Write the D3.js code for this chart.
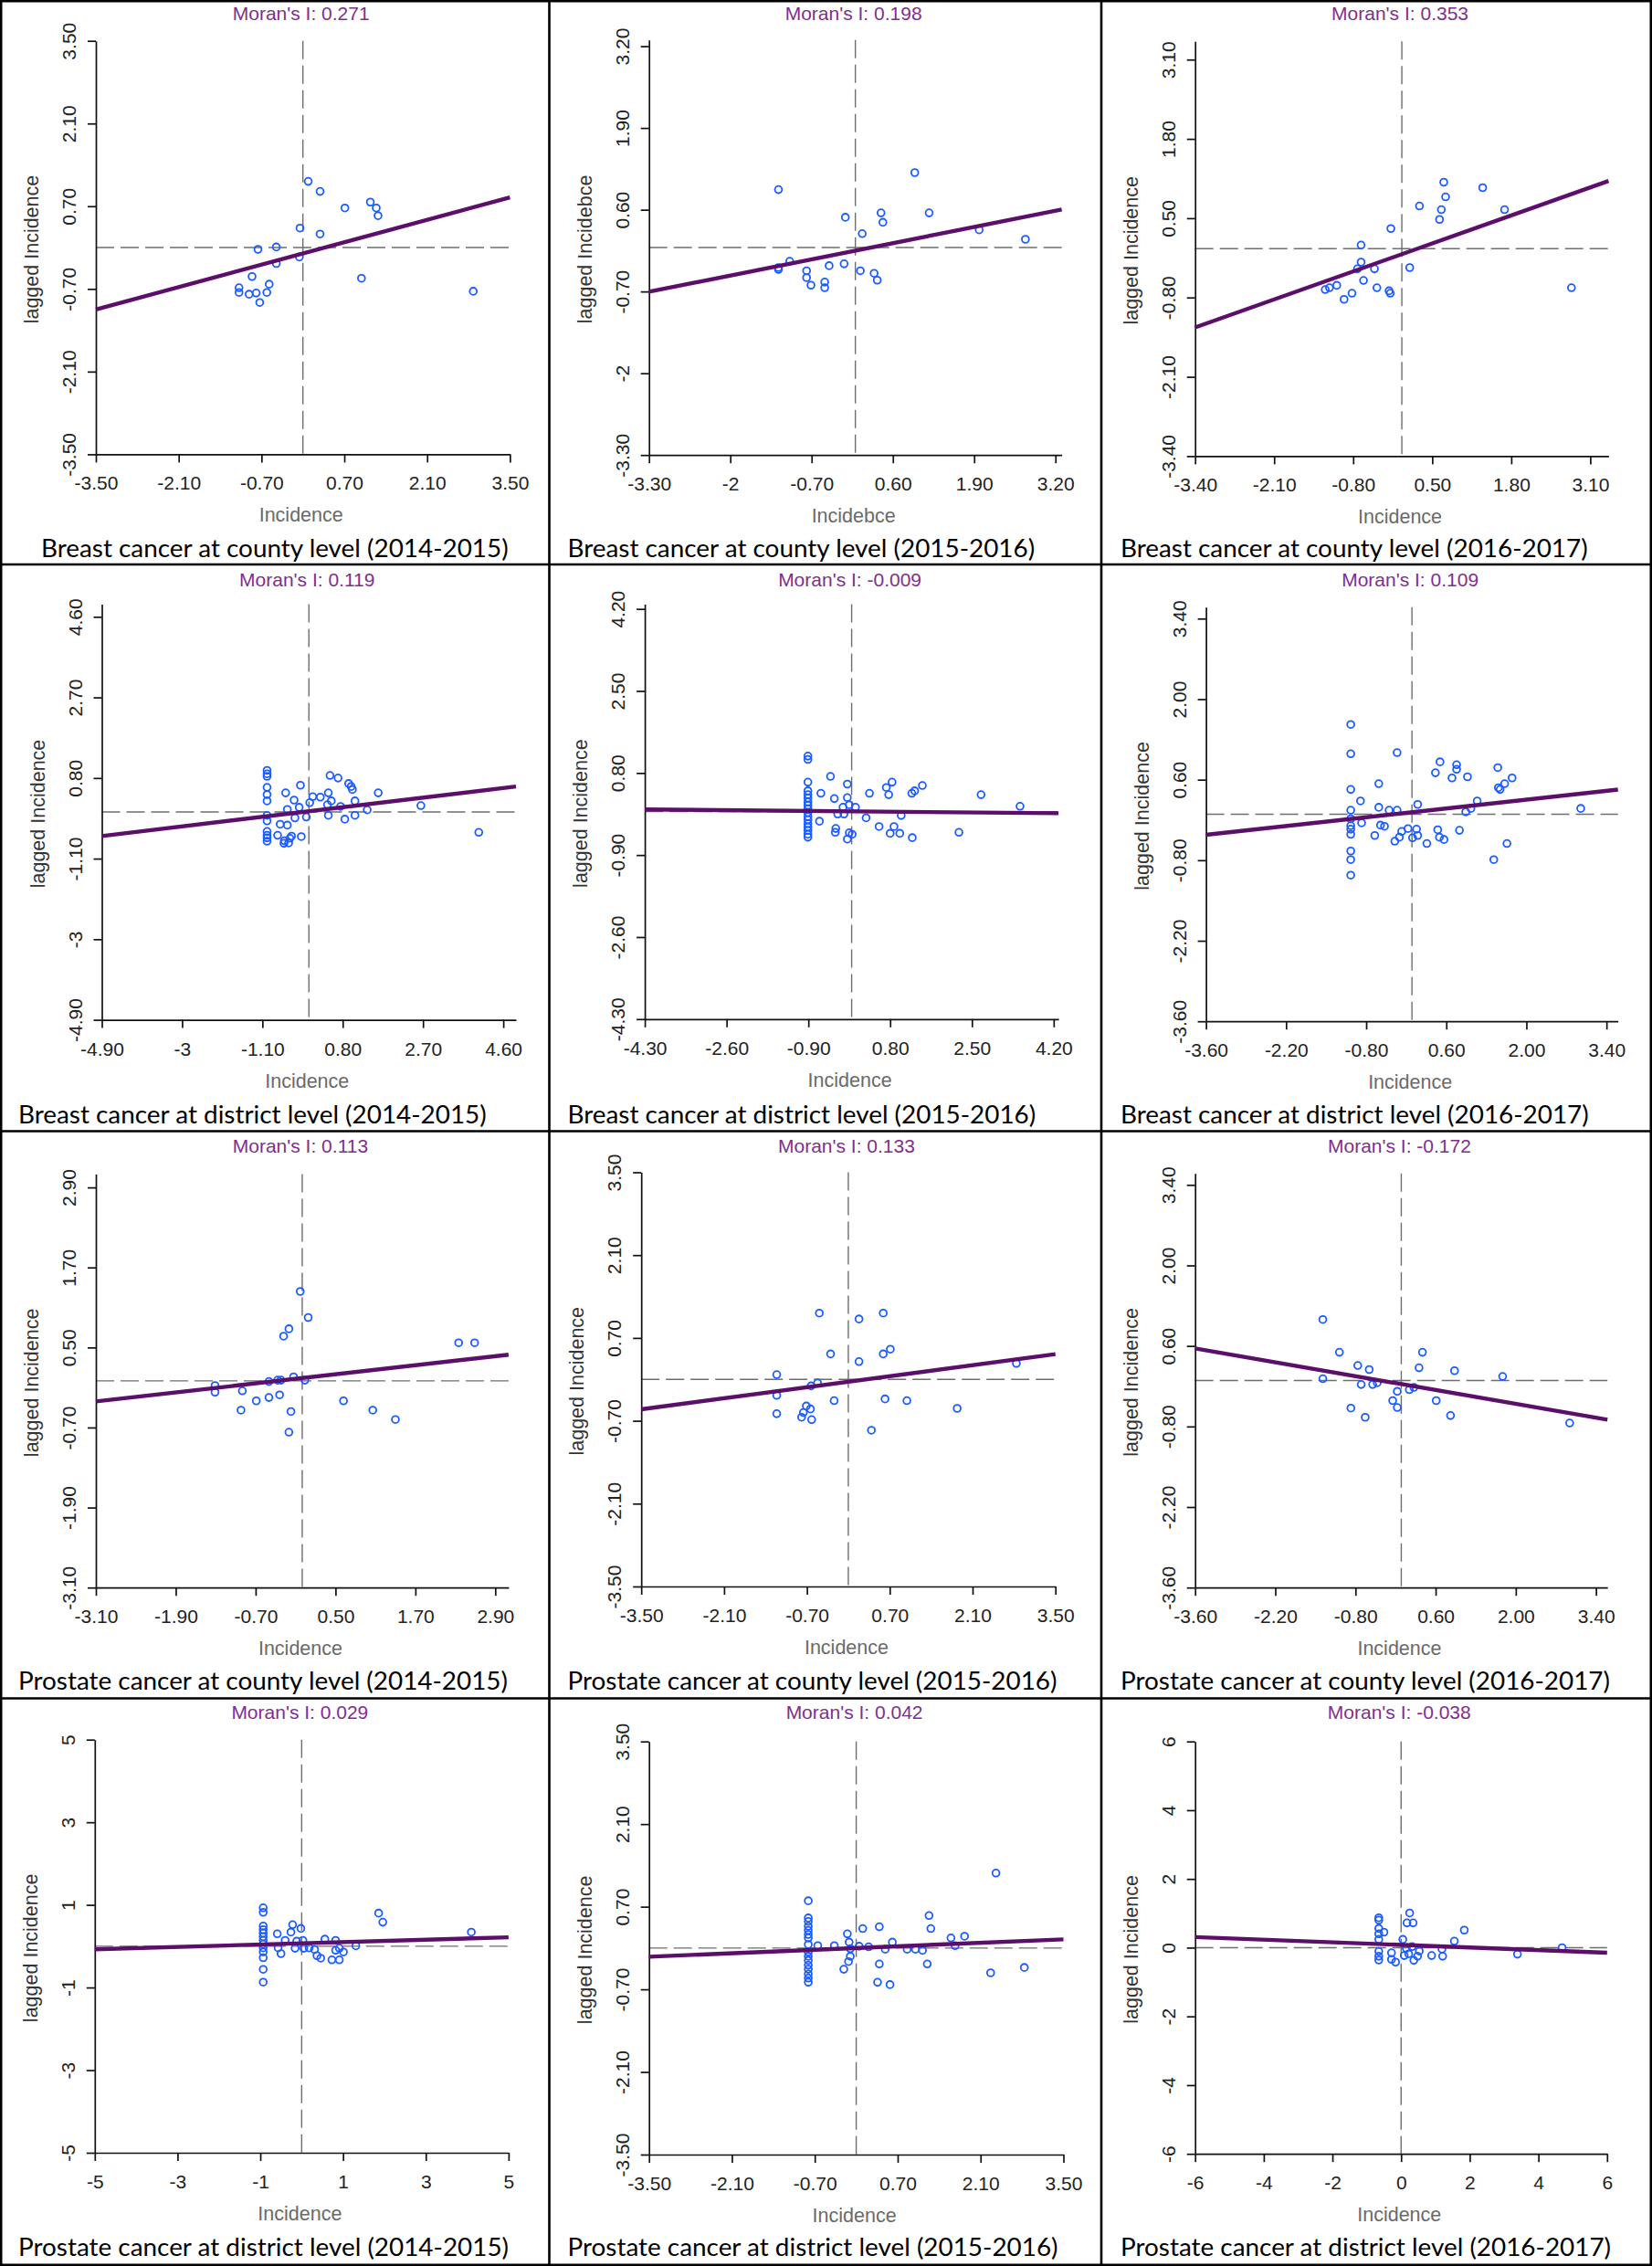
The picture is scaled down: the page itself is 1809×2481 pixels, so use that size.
<!DOCTYPE html>
<html><head><meta charset="utf-8">
<script src="https://cdn.jsdelivr.net/npm/d3@7"></script>
<style>
html,body{margin:0;padding:0;background:#fff;}
svg{display:block;}
</style></head><body>
<svg id="chart" width="1809" height="2481"></svg>
<script>
// ---------------- DATA ----------------
const captions = [
  "Breast cancer at county level (2014-2015)",
  "Breast cancer at county level (2015-2016)",
  "Breast cancer at county level (2016-2017)",
  "Breast cancer at district level (2014-2015)",
  "Breast cancer at district level (2015-2016)",
  "Breast cancer at district level (2016-2017)",
  "Prostate cancer at county level (2014-2015)",
  "Prostate cancer at county level (2015-2016)",
  "Prostate cancer at county level (2016-2017)",
  "Prostate cancer at district level (2014-2015)",
  "Prostate cancer at district level (2015-2016)",
  "Prostate cancer at district level (2016-2017)"
];
const moranI = [0.271, 0.198, 0.353, 0.119, -0.009, 0.109, 0.113, 0.133, -0.172, 0.029, 0.042, -0.038];
const lineIntercept = [-0.10, -0.05, -0.09, 0.016, 0.005, 0.035, 0.041, -0.04, -0.062, 0.07, 0.0, 0.08];
const xTitles = ["Incidence","Incidebce","Incidence","Incidence","Incidence","Incidence","Incidence","Incidence","Incidence","Incidence","Incidence","Incidence"];
const yTitles = ["lagged Incidence","lagged Incidebce","lagged Incidence","lagged Incidence","lagged Incidence","lagged Incidence","lagged Incidence","lagged Incidence","lagged Incidence","lagged Incidence","lagged Incidence","lagged Incidence"];
const xTickLabels = [
  ["-3.50","-2.10","-0.70","0.70","2.10","3.50"],
  ["-3.30","-2","-0.70","0.60","1.90","3.20"],
  ["-3.40","-2.10","-0.80","0.50","1.80","3.10"],
  ["-4.90","-3","-1.10","0.80","2.70","4.60"],
  ["-4.30","-2.60","-0.90","0.80","2.50","4.20"],
  ["-3.60","-2.20","-0.80","0.60","2.00","3.40"],
  ["-3.10","-1.90","-0.70","0.50","1.70","2.90"],
  ["-3.50","-2.10","-0.70","0.70","2.10","3.50"],
  ["-3.60","-2.20","-0.80","0.60","2.00","3.40"],
  ["-5","-3","-1","1","3","5"],
  ["-3.50","-2.10","-0.70","0.70","2.10","3.50"],
  ["-6","-4","-2","0","2","4","6"]
];
const yTickLabels = xTickLabels.map(a => a.slice());

// Panel 1: Breast, county, 2014-2015
const x1 = [0.09,0.29,0.71,1.14,1.24,1.27,-0.05,0.29,-0.76,-0.45,-0.06,-0.45,-0.86,0.99,-0.57,-1.08,-1.08,-0.91,-0.79,-0.61,-0.73,2.88];
const y1 = [1.12,0.95,0.67,0.77,0.67,0.54,0.33,0.23,-0.03,0.01,-0.16,-0.27,-0.49,-0.52,-0.62,-0.68,-0.76,-0.79,-0.77,-0.76,-0.93,-0.74];
// Panel 2: Breast, county, 2015-2016
const x2 = [-1.23,0.95,-0.16,0.41,0.44,1.18,0.11,1.98,2.72,-1.05,-1.23,-1.23,-0.78,-0.78,-0.71,-0.49,-0.49,-0.42,-0.18,0.08,0.30,0.35];
const y2 = [0.92,1.19,0.48,0.55,0.40,0.55,0.22,0.28,0.13,-0.22,-0.32,-0.35,-0.37,-0.48,-0.60,-0.55,-0.64,-0.29,-0.26,-0.37,-0.41,-0.52];
// Panel 3: Breast, county, 2016-2017
const x3 = [0.69,1.33,0.72,0.29,0.65,0.62,1.69,-0.18,-0.67,-0.67,-0.73,-0.45,0.13,-0.63,-0.41,-0.21,-0.19,-1.07,-1.19,-1.26,-0.82,-0.95,2.79];
const y3 = [1.09,1.00,0.85,0.70,0.64,0.48,0.64,0.33,0.06,-0.22,-0.33,-0.33,-0.31,-0.52,-0.64,-0.69,-0.73,-0.60,-0.64,-0.67,-0.73,-0.83,-0.64];
// Panel 4: Breast, district, 2014-2015
const x4 = [-0.99,-0.99,-0.99,-0.99,-0.99,-0.99,-0.99,-0.99,-0.99,-0.99,-0.99,-0.99,
  -0.55,-0.20,-0.35,-0.51,-0.23,0.09,0.02,0.27,0.46,0.50,0.69,0.94,1.00,1.03,0.53,0.44,0.75,1.09,1.38,1.64,2.65,4.02,
  0.46,0.85,1.09,-0.33,-0.06,-0.68,-0.51,-0.74,-0.58,-0.48,-0.59,-0.41,-0.18,-0.45];
const y4 = [0.98,0.90,0.84,0.58,0.41,0.26,-0.08,-0.21,-0.46,-0.55,-0.61,-0.69,
  0.45,0.63,0.28,0.06,0.11,0.36,0.22,0.35,0.45,0.86,0.80,0.67,0.60,0.53,0.26,0.17,0.13,0.26,0.05,0.45,0.15,-0.48,
  -0.08,-0.17,-0.08,-0.14,-0.12,-0.29,-0.31,-0.55,-0.68,-0.73,-0.74,-0.57,-0.58,-0.62];
// Panel 5: Breast, district, 2015-2016
const x5 = [-0.91,-0.91,-0.91,-0.91,-0.91,-0.91,-0.91,-0.91,-0.91,-0.91,-0.91,-0.91,-0.91,-0.91,-0.91,-0.91,-0.91,
  -0.44,-0.09,-0.09,-0.64,-0.36,-0.18,-0.05,0.08,-0.29,-0.16,0.37,0.72,0.77,0.84,1.25,1.31,1.47,2.69,3.50,
  0.30,1.03,-0.67,-0.33,-0.34,0.57,0.88,0.80,1.00,1.26,2.23,-0.09,0.01,-0.05];
const y5 = [1.15,1.08,0.61,0.43,0.35,0.28,0.20,0.13,0.06,-0.02,-0.10,-0.17,-0.25,-0.32,-0.39,-0.47,-0.53,
  0.73,0.57,0.29,0.38,0.27,0.09,0.14,0.09,-0.05,-0.05,0.38,0.50,0.35,0.61,0.38,0.43,0.54,0.35,0.11,
  -0.13,-0.08,-0.20,-0.35,-0.43,-0.31,-0.31,-0.45,-0.45,-0.54,-0.43,-0.57,-0.47,-0.44];
// Panel 6: Breast, district, 2016-2017
const x6 = [-1.07,-1.07,-1.07,-1.07,-1.07,-1.07,-1.07,-1.07,-1.07,-1.07,-1.07,
  -0.26,0.49,0.41,0.78,0.78,0.70,0.97,1.50,1.51,1.54,1.62,1.75,-0.58,-0.90,-0.58,-0.40,-0.26,0.10,1.14,0.94,1.03,2.95,
  -0.88,-0.55,-0.48,-0.65,-0.18,-0.22,-0.30,-0.07,0.08,0.01,0.10,0.26,0.45,0.48,0.56,0.83,1.66,1.43];
const y6 = [1.56,1.05,0.43,0.07,-0.08,-0.20,-0.26,-0.35,-0.64,-0.79,-1.06,
  1.07,0.91,0.72,0.86,0.78,0.63,0.65,0.81,0.46,0.43,0.53,0.63,0.53,0.23,0.12,0.07,0.07,0.17,0.23,0.04,0.10,0.10,
  -0.15,-0.19,-0.21,-0.37,-0.30,-0.40,-0.47,-0.25,-0.26,-0.41,-0.37,-0.51,-0.27,-0.40,-0.44,-0.28,-0.51,-0.79];
// Panel 7: Prostate, county, 2014-2015
const x7 = [-0.03,0.09,-0.20,-0.28,2.35,2.59,-1.31,-1.31,-0.90,-0.50,-0.37,-0.32,-0.13,0.04,-0.69,-0.50,-0.34,-0.92,-0.17,-0.20,0.62,1.06,1.40];
const y7 = [1.34,0.95,0.78,0.67,0.57,0.57,-0.07,-0.17,-0.15,-0.01,0.01,0.01,0.06,0.01,-0.30,-0.25,-0.21,-0.44,-0.46,-0.77,-0.30,-0.44,-0.58];
// Panel 8: Prostate, county, 2015-2016
const x8 = [-0.49,0.18,0.59,-0.30,0.18,0.59,0.71,-1.21,-0.52,-0.63,-1.21,-0.24,0.62,0.99,-0.71,-0.64,-0.76,-0.79,-0.62,-1.21,1.84,0.39,2.84];
const y8 = [1.12,1.02,1.12,0.43,0.30,0.43,0.51,0.08,-0.06,-0.11,-0.27,-0.36,-0.33,-0.36,-0.45,-0.50,-0.56,-0.64,-0.68,-0.58,-0.49,-0.86,0.27];
// Panel 9: Prostate, county, 2016-2017
const x9 = [-1.37,-1.08,-0.76,-0.56,-1.37,-0.70,-0.50,-0.42,0.37,0.31,0.93,1.77,-0.07,-0.15,-0.07,0.14,0.22,0.61,-0.88,-0.63,0.86,2.94];
const y9 = [1.06,0.49,0.26,0.19,0.03,-0.07,-0.07,-0.04,0.49,0.22,0.17,0.07,-0.19,-0.35,-0.47,-0.16,-0.12,-0.35,-0.48,-0.64,-0.61,-0.74];
// Panel 10: Prostate, district, 2014-2015
const x10 = [-0.93,-0.93,-0.93,-0.93,-0.93,-0.93,-0.93,-0.93,-0.93,-0.93,-0.93,-0.93,-0.93,
  -0.59,-0.50,-0.57,-0.40,-0.26,-0.22,-0.02,-0.16,-0.12,0.03,0.05,0.18,0.31,0.37,0.46,0.56,0.82,0.82,0.73,0.91,0.91,1.01,1.31,1.86,1.96,4.10];
const y10 = [0.93,0.82,0.49,0.40,0.32,0.23,0.14,0.05,-0.04,-0.14,-0.28,-0.56,-0.87,
  0.30,-0.18,-0.04,0.14,0.34,0.52,0.43,-0.05,0.12,0.14,-0.05,-0.04,-0.08,-0.23,-0.29,0.17,0.14,-0.10,-0.33,-0.33,-0.05,-0.14,0.01,0.80,0.58,0.34];
// Panel 11: Prostate, district, 2015-2016
const x11 = [-0.81,-0.81,-0.81,-0.81,-0.81,-0.81,-0.81,-0.81,-0.81,-0.81,-0.81,-0.81,-0.81,-0.81,-0.81,-0.81,
  -0.65,-0.37,-0.15,-0.12,-0.10,-0.10,-0.13,-0.21,0.05,0.11,0.21,0.39,0.49,0.61,0.39,0.36,0.57,0.86,1.00,1.12,1.23,1.26,1.20,1.60,1.67,1.83,2.36,2.27,2.84];
const y11 = [0.80,0.51,0.45,0.37,0.30,0.23,0.17,0.06,-0.07,-0.14,-0.21,-0.29,-0.36,-0.44,-0.51,-0.58,
  0.04,0.04,0.24,0.10,-0.01,-0.14,-0.23,-0.36,0.03,0.33,0.02,0.36,-0.02,0.10,-0.27,-0.58,-0.62,-0.02,-0.02,-0.04,0.55,0.33,-0.27,0.17,0.04,0.20,1.27,-0.42,-0.33];
// Panel 12: Prostate, district, 2016-2017
const x12 = [-0.65,-0.65,-0.65,-0.65,-0.65,-0.65,-0.65,-0.65,
  -0.50,-0.28,-0.28,-0.16,0.05,0.09,0.15,0.25,0.17,0.35,0.22,0.32,0.37,0.48,0.53,0.89,1.19,1.21,1.55,1.84,3.39,4.69];
const y12 = [0.87,0.80,0.56,0.40,0.24,-0.11,-0.25,-0.36,
  0.45,-0.15,-0.34,-0.42,0.24,-0.23,-0.02,1.01,0.72,0.72,-0.18,0.03,-0.37,-0.25,-0.10,-0.23,-0.04,-0.25,0.19,0.51,-0.19,0.00];

const pointX = [x1,x2,x3,x4,x5,x6,x7,x8,x9,x10,x11,x12];
const pointY = [y1,y2,y3,y4,y5,y6,y7,y8,y9,y10,y11,y12];

// ---------------- LAYOUT ----------------
const W = 1809, H = 2481;
const cellX = [0, 603, 1206];
const cellY = [0, 620, 1240, 1860];
// plot box in cell coordinates: [left, top, right, bottom]
const plotBox = [
  [105.0,44.7,558.4,497.4],[107.7,43.7,559.6,498.2],[102.7,45.2,555.4,499.4],
  [111.5,41.4,565.0,496.6],[103.1,41.4,556.1,495.8],[114.6,44.7,565.7,498.2],
  [105.0,45.5,556.9,498.2],[99.2,43.5,552.7,497.0],[102.7,44.7,554.2,498.2],
  [103.8,44.7,556.9,497.0],[107.7,46.7,561.5,499.0],[102.7,46.7,553.8,498.2]
];
const captionX = [45,18.5,21,20,18.5,21,20,18.5,21,20,18.5,21];
const borderXs = [1.2, 601.5, 1206, 1807.8];
const borderYs = [1.2, 618, 1238.5, 1859.5, 2479.8];

const plotFont = "'Liberation Sans', Arial, sans-serif";
const capFont = "Lato, 'Open Sans', sans-serif";

const svg = d3.select("#chart");
svg.append("rect").attr("width", W).attr("height", H).attr("fill", "#fff");

// caption font size fitted to the reference caption width
const probe = svg.append("text").attr("font-family", capFont).attr("font-size", 100).text(captions[0]);
const capSize = 100 * 512 / probe.node().getComputedTextLength();
probe.remove();

d3.range(12).forEach(i => {
  const [L, T, R, B] = plotBox[i];
  const g = svg.append("g").attr("transform", `translate(${cellX[i % 3]},${cellY[Math.floor(i / 3)]})`);
  const xv = xTickLabels[i].map(Number), yv = yTickLabels[i].map(Number);
  const x = d3.scaleLinear().domain([xv[0], -xv[0]]).range([L, R]);
  const y = d3.scaleLinear().domain([yv[0], -yv[0]]).range([B, T]);

  // reference dashed lines at 0
  g.append("line").attr("x1", x(0)).attr("x2", x(0)).attr("y1", T).attr("y2", B)
    .attr("stroke", "#6e6e6e").attr("stroke-width", 1.4).attr("stroke-dasharray", "20,7");
  g.append("line").attr("x1", L).attr("x2", R).attr("y1", y(0)).attr("y2", y(0))
    .attr("stroke", "#6e6e6e").attr("stroke-width", 1.4).attr("stroke-dasharray", "20,7");

  // axes
  const xa = g.append("g").attr("transform", `translate(0,${B})`)
    .call(d3.axisBottom(x).tickValues(xv).tickFormat((d, k) => xTickLabels[i][k]).tickSize(9).tickSizeOuter(0));
  const ya = g.append("g").attr("transform", `translate(${L},0)`)
    .call(d3.axisLeft(y).tickValues(yv).tickFormat((d, k) => yTickLabels[i][k]).tickSize(9).tickSizeOuter(0));
  [xa, ya].forEach(a => {
    a.selectAll("path,line").attr("stroke", "#111").attr("stroke-width", 1.7);
    a.selectAll("text").attr("font-family", plotFont).attr("font-size", 21).attr("fill", "#222");
  });
  xa.selectAll("text").attr("y", 39).attr("dy", 0);
  ya.selectAll("text").attr("transform", "rotate(-90)").attr("x", 0).attr("y", -22).attr("dy", 0).attr("text-anchor", "middle");

  // points
  g.append("g").selectAll("circle").data(pointX[i].map((v, k) => [v, pointY[i][k]])).join("circle")
    .attr("cx", d => x(d[0])).attr("cy", d => y(d[1])).attr("r", 3.9)
    .attr("fill", "none").attr("stroke", "#1a5cff").attr("stroke-width", 1.8);

  // regression line (slope = Moran's I)
  const m = moranI[i], b = lineIntercept[i];
  const x0 = xv[0], xe = -xv[0];
  g.append("line").attr("x1", x(x0)).attr("y1", y(b + m * x0)).attr("x2", x(xe)).attr("y2", y(b + m * xe))
    .attr("stroke", "#5c0e6b").attr("stroke-width", 4.4);

  // titles
  const cx = (L + R) / 2 - 2;
  g.append("text").attr("x", cx).attr("y", 22).attr("text-anchor", "middle")
    .attr("font-family", plotFont).attr("font-size", 21).attr("fill", "#7e2f8e")
    .text("Moran's I: " + m.toFixed(3));
  g.append("text").attr("x", cx).attr("y", B + 74).attr("text-anchor", "middle")
    .attr("font-family", plotFont).attr("font-size", 21.5).attr("fill", "#6a6a6a")
    .text(xTitles[i]);
  g.append("text").attr("transform", `translate(${L - 63},${(T + B) / 2 + 2}) rotate(-90)`)
    .attr("text-anchor", "middle").attr("font-family", plotFont).attr("font-size", 21.5).attr("fill", "#333")
    .text(yTitles[i]);
  g.append("text").attr("x", captionX[i]).attr("y", 610)
    .attr("font-family", capFont).attr("font-size", capSize).attr("fill", "#000")
    .text(captions[i]);
});

// table borders
borderXs.forEach(bx => svg.append("line").attr("x1", bx).attr("x2", bx).attr("y1", 0).attr("y2", H)
  .attr("stroke", "#000").attr("stroke-width", 2.6));
borderYs.forEach(by => svg.append("line").attr("x1", 0).attr("x2", W).attr("y1", by).attr("y2", by)
  .attr("stroke", "#000").attr("stroke-width", 2.6));
</script>
</body></html>
